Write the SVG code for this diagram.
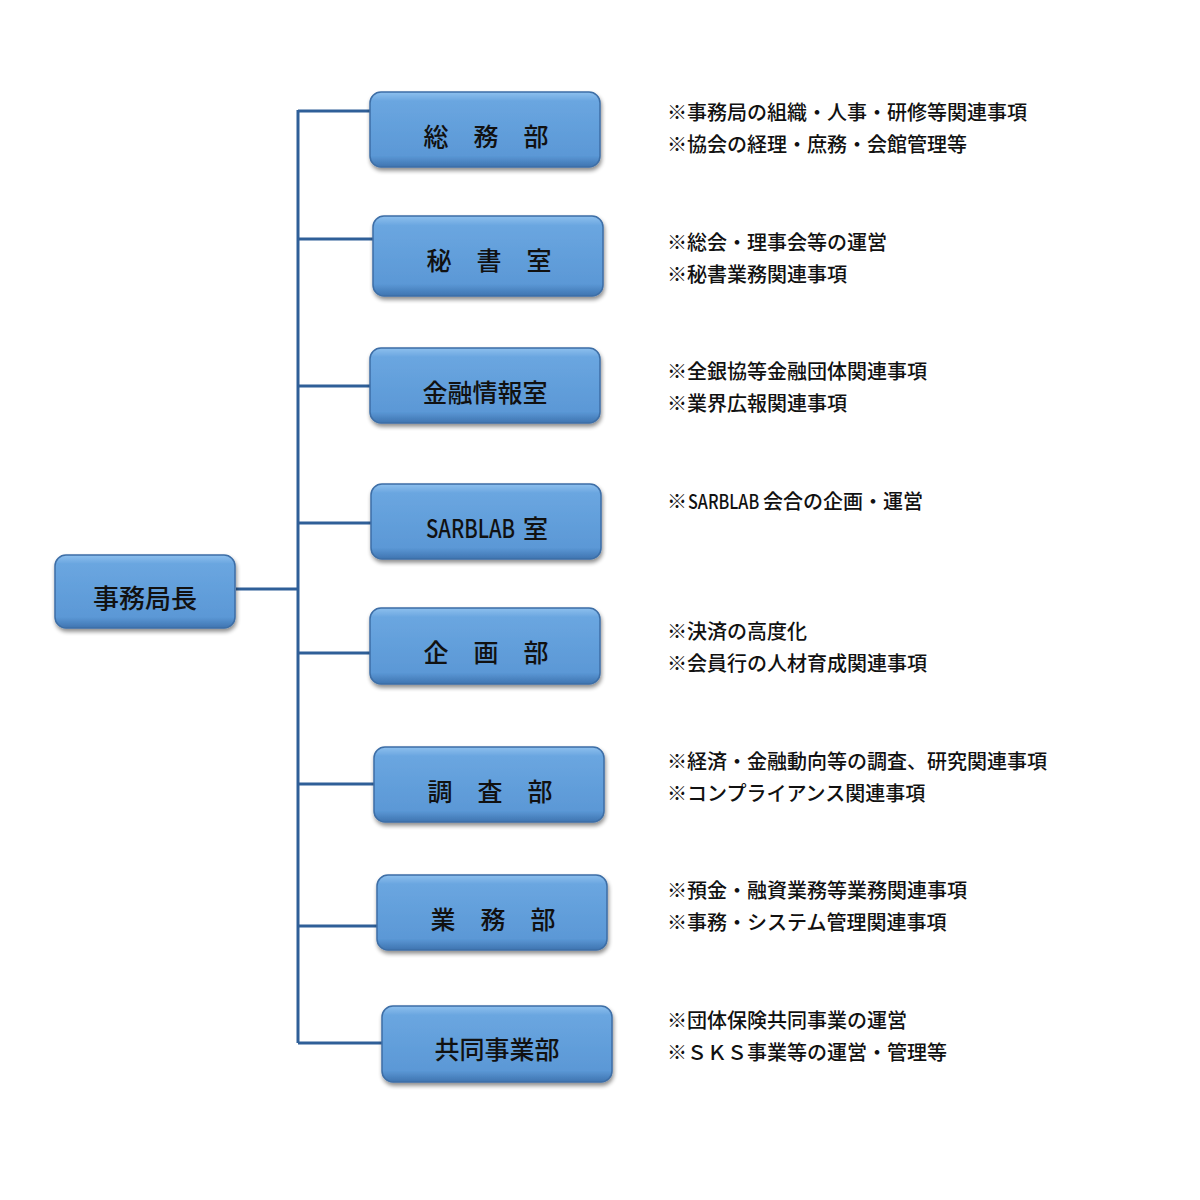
<svg xmlns="http://www.w3.org/2000/svg" width="1200" height="1200" viewBox="0 0 1200 1200">
<defs>
<linearGradient id="g" x1="0" y1="0" x2="0" y2="1">
<stop offset="0" stop-color="#8ec0ee"/>
<stop offset="0.12" stop-color="#6aa6e0"/>
<stop offset="0.85" stop-color="#5b98d6"/>
<stop offset="1" stop-color="#3f74b0"/>
</linearGradient>
<filter id="sh" x="-10%" y="-10%" width="125%" height="135%">
<feGaussianBlur in="SourceAlpha" stdDeviation="2"/>
<feOffset dx="1" dy="3" result="o"/>
<feComponentTransfer><feFuncA type="linear" slope="0.45"/></feComponentTransfer>
<feMerge><feMergeNode/><feMergeNode in="SourceGraphic"/></feMerge>
</filter>
</defs>
<style>
.box{fill:url(#g);stroke:#3d6ea6;stroke-width:1.5;filter:url(#sh)}
.lbl{font-family:"Noto Sans CJK JP","Noto Sans",sans-serif;font-size:25px;font-weight:500;fill:#111;text-anchor:middle}
.note{font-family:"Noto Sans CJK JP","Noto Sans",sans-serif;font-size:20px;font-weight:500;fill:#111}
.ln{stroke:#2f5f98;stroke-width:3;fill:none}
</style>
<rect width="1200" height="1200" fill="#fff"/>
<g id="connectors">
<line class="ln" x1="298" y1="110" x2="298" y2="1043"/>
<line class="ln" x1="236" y1="589" x2="298" y2="589"/>
<line class="ln" x1="298" y1="111" x2="370" y2="111"/>
<line class="ln" x1="298" y1="239" x2="373" y2="239"/>
<line class="ln" x1="298" y1="386" x2="370" y2="386"/>
<line class="ln" x1="298" y1="523" x2="371" y2="523"/>
<line class="ln" x1="298" y1="653" x2="370" y2="653"/>
<line class="ln" x1="298" y1="784" x2="374" y2="784"/>
<line class="ln" x1="298" y1="926" x2="377" y2="926"/>
<line class="ln" x1="298" y1="1043" x2="382" y2="1043"/>
</g>
<g id="n0"><rect class="box" x="55" y="555" width="180" height="73" rx="11"/><text class="lbl" x="145" y="608" style="font-size:26px">事務局長</text></g>
<g id="n1"><rect class="box" x="370" y="92" width="230" height="75" rx="11"/><text class="lbl" x="486" y="146">総　務　部</text></g>
<g id="n2"><rect class="box" x="373" y="216" width="230" height="80" rx="11"/><text class="lbl" x="489" y="270">秘　書　室</text></g>
<g id="n3"><rect class="box" x="370" y="348" width="230" height="75" rx="11"/><text class="lbl" x="485" y="402">金融情報室</text></g>
<g id="n4"><rect class="box" x="371" y="484" width="230" height="75" rx="11"/><text class="lbl" transform="translate(426,538) scale(0.81,1)" style="text-anchor:start">SARBLAB</text><text class="lbl" x="523" y="538" style="text-anchor:start">室</text></g>
<g id="n5"><rect class="box" x="370" y="608" width="230" height="76" rx="11"/><text class="lbl" x="486" y="662">企　画　部</text></g>
<g id="n6"><rect class="box" x="374" y="747" width="230" height="75" rx="11"/><text class="lbl" x="490" y="801">調　査　部</text></g>
<g id="n7"><rect class="box" x="377" y="875" width="230" height="75" rx="11"/><text class="lbl" x="493" y="929">業　務　部</text></g>
<g id="n8"><rect class="box" x="382" y="1006" width="230" height="76" rx="11"/><text class="lbl" x="497" y="1059">共同事業部</text></g>
<g id="notes">
<text class="note" x="667" y="120">※事務局の組織・人事・研修等関連事項</text>
<text class="note" x="667" y="152">※協会の経理・庶務・会館管理等</text>
<text class="note" x="667" y="250">※総会・理事会等の運営</text>
<text class="note" x="667" y="282">※秘書業務関連事項</text>
<text class="note" x="667" y="379">※全銀協等金融団体関連事項</text>
<text class="note" x="667" y="411">※業界広報関連事項</text>
<text class="note" x="667" y="509">※</text>
<text class="note" transform="translate(688,509) scale(0.81,1)">SARBLAB</text>
<text class="note" x="763" y="509">会合の企画・運営</text>
<text class="note" x="667" y="639">※決済の高度化</text>
<text class="note" x="667" y="671">※会員行の人材育成関連事項</text>
<text class="note" x="667" y="769">※経済・金融動向等の調査、研究関連事項</text>
<text class="note" x="667" y="801">※コンプライアンス関連事項</text>
<text class="note" x="667" y="898">※預金・融資業務等業務関連事項</text>
<text class="note" x="667" y="930">※事務・システム管理関連事項</text>
<text class="note" x="667" y="1028">※団体保険共同事業の運営</text>
<text class="note" x="667" y="1060">※ＳＫＳ事業等の運営・管理等</text>
</g>
</svg>
